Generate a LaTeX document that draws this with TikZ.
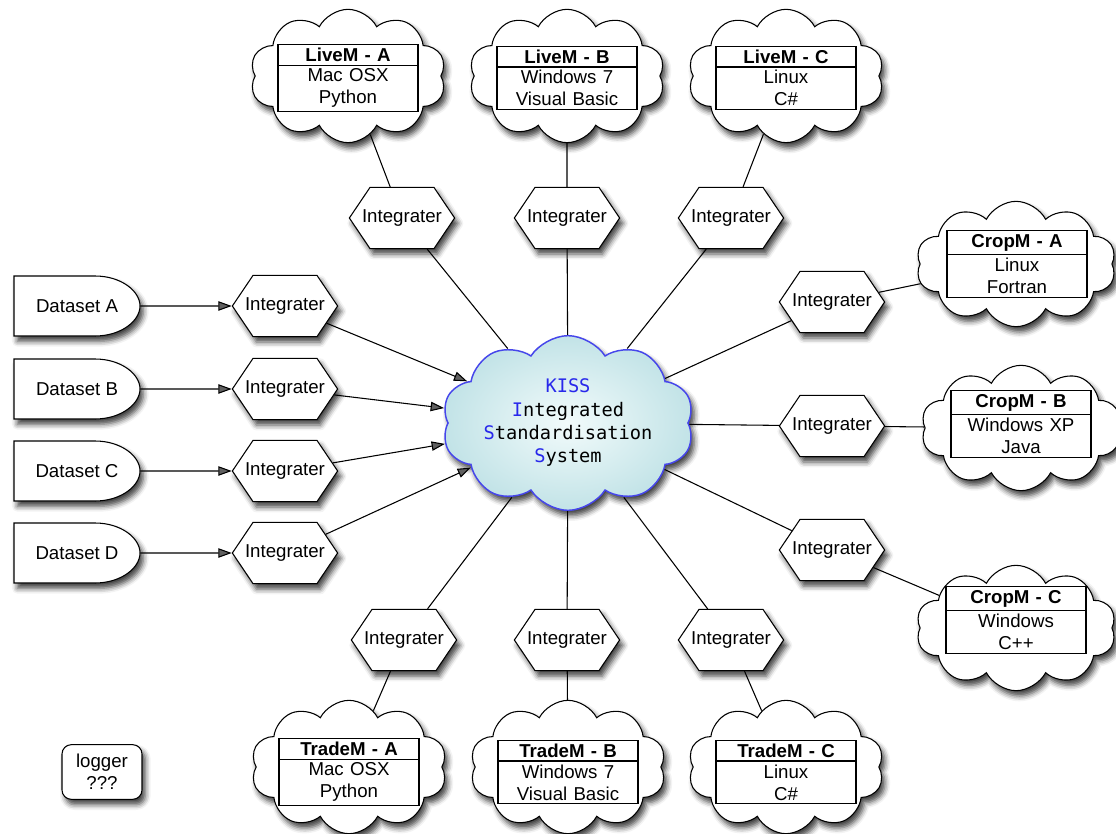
\documentclass[tikz,border=0pt]{standalone}
\usepackage{fontspec}
\setmainfont{Liberation Sans}
\newfontfamily\kissmono{DejaVu Sans Mono}
\usetikzlibrary{shapes.symbols,shapes.multipart,shadows.blur,arrows.meta}
\definecolor{kissblue}{RGB}{40,40,235}
\definecolor{kissedge}{RGB}{70,70,235}
\definecolor{kissin}{RGB}{242,251,251}
\definecolor{kissout}{RGB}{194,227,231}
\newcommand\dfont{\fontsize{14}{16.5}\selectfont}
\newcommand\kfont{\kissmono\fontsize{14}{17.5}\selectfont}
\newcommand\kb[1]{\textcolor{kissblue}{#1}}

\tikzset{
  sh/.style={blur shadow={shadow xshift=2.5pt, shadow yshift=-4pt,
             shadow blur radius=4pt, shadow opacity=75}},
  integ/.style={signal, signal to=east and west, signal pointer angle=112,
             draw, line width=0.8pt, fill=white, minimum width=0pt,
             minimum height=46pt, inner xsep=-6pt, sh, font=\dfont},
  modcloud/.style={cloud, cloud puffs=10, cloud puff arc=125,
             cloud ignores aspect, draw, line width=0.8pt, fill=white,
             minimum width=147pt, minimum height=100pt, inner sep=0pt, sh},
  cropcloud/.style={modcloud, minimum width=150pt, minimum height=94pt},
  kisscloud/.style={cloud, cloud puffs=10, cloud puff arc=115,
             cloud ignores aspect, draw=kissedge, line width=1.1pt,
             inner color=kissin, outer color=kissout,
             minimum width=189pt, minimum height=131pt, inner sep=0pt, sh},
  modbox/.style={rectangle split, rectangle split parts=2, draw,
             line width=0.8pt, fill=white, text width=96pt, align=center,
             inner xsep=4.5pt, inner ysep=2.2pt, font=\dfont},
  dsetlabel/.style={rectangle, minimum width=94.5pt, minimum height=45pt,
             inner sep=0pt, font=\dfont},
  dsetshape/.style={draw, line width=0.8pt, fill=white, sh},
  logbox/.style={draw, line width=0.8pt, fill=white, rounded corners=7pt,
             minimum width=60pt, minimum height=41pt, align=center,
             font=\dfont, sh},
  conn/.style={line width=0.8pt},
  arr/.style={line width=0.8pt, -{Triangle[length=10pt,width=7pt]}}
}

\begin{document}
\begin{tikzpicture}[x=0.75pt, y=-0.75pt]
\useasboundingbox (0,0) rectangle (1116,834);

% central system
\node[kisscloud] (kiss) at (568,423) {};
\node[font=\kfont, align=center] (kisstxt) at (568,423)
  {\kb{KISS}\\\kb{I}ntegrated\\\kb{S}tandardisation\\\kb{S}ystem};

% livestock models (top)
\node[modcloud] (liveA) at (348,76) {};
\node[modcloud] (liveB) at (567,76) {};
\node[modcloud] (liveC) at (786,76) {};
\node[modbox] (liveAbox) at (348,78) {\textbf{LiveM - A}\nodepart{second}Mac OSX\\Python};
\node[modbox] (liveBbox) at (567,78) {\textbf{LiveM - B}\nodepart{second}Windows 7\\Visual Basic};
\node[modbox] (liveCbox) at (786,78) {\textbf{LiveM - C}\nodepart{second}Linux\\C\#};

% crop models (right)
\node[cropcloud] (cropA) at (1016,264) {};
\node[cropcloud] (cropB) at (1021,428) {};
\node[cropcloud] (cropC) at (1016,628) {};
\node[modbox] (cropAbox) at (1017,264) {\textbf{CropM - A}\nodepart{second}Linux\\Fortran};
\node[modbox] (cropBbox) at (1021,424) {\textbf{CropM - B}\nodepart{second}Windows XP\\Java};
\node[modbox] (cropCbox) at (1016,620) {\textbf{CropM - C}\nodepart{second}Windows\\C++};

% trade models (bottom)
\node[modcloud] (tradeA) at (349,767) {};
\node[modcloud] (tradeB) at (568,767) {};
\node[modcloud] (tradeC) at (786,767) {};
\node[modbox] (tradeAbox) at (349,772) {\textbf{TradeM - A}\nodepart{second}Mac OSX\\Python};
\node[modbox] (tradeBbox) at (568,772) {\textbf{TradeM - B}\nodepart{second}Windows 7\\Visual Basic};
\node[modbox] (tradeCbox) at (786,772) {\textbf{TradeM - C}\nodepart{second}Linux\\C\#};

% integraters
\node[integ] (iT1) at (402,218) {Integrater};
\node[integ] (iT2) at (567,218) {Integrater};
\node[integ] (iT3) at (731,218) {Integrater};
\node[integ] (iR1) at (832,302) {Integrater};
\node[integ] (iR2) at (832,426) {Integrater};
\node[integ] (iR3) at (832,550) {Integrater};
\node[integ] (iB1) at (404,640) {Integrater};
\node[integ] (iB2) at (567,640) {Integrater};
\node[integ] (iB3) at (731,640) {Integrater};
\node[integ] (iL1) at (285,306) {Integrater};
\node[integ] (iL2) at (285,389) {Integrater};
\node[integ] (iL3) at (285,471) {Integrater};
\node[integ] (iL4) at (285,553) {Integrater};

% datasets (flat left side, rounded right side)
\foreach \y in {306,389,471,553} {
  \path[dsetshape] (14,\y-30) -- (95,\y-30)
    .. controls (121,\y-30) and (140,\y-15) .. (140,\y)
    .. controls (140,\y+15) and (121,\y+30) .. (95,\y+30)
    -- (14,\y+30) -- cycle;
}
\node[dsetlabel] (dA) at (77,306) {Dataset A};
\node[dsetlabel] (dB) at (77,389) {Dataset B};
\node[dsetlabel] (dC) at (77,471) {Dataset C};
\node[dsetlabel] (dD) at (77,553) {Dataset D};

% logger
\node[logbox] (logger) at (102,772) {logger\\???};

% connectors
\draw[conn] (liveA) -- (iT1) -- (kiss);
\draw[conn] (liveB) -- (iT2) -- (kiss);
\draw[conn] (liveC) -- (iT3) -- (kiss);
\draw[conn] (kiss) -- (iR1) -- (cropA);
\draw[conn] (kiss) -- (iR2) -- (cropB);
\draw[conn] (kiss) -- (iR3) -- (cropC);
\draw[conn] (kiss) -- (iB1) -- (tradeA);
\draw[conn] (kiss) -- (iB2) -- (tradeB);
\draw[conn] (kiss) -- (iB3) -- (tradeC);
\draw[arr] (dA) -- (iL1);
\draw[arr] (dB) -- (iL2);
\draw[arr] (dC) -- (iL3);
\draw[arr] (dD) -- (iL4);
\draw[arr] (iL1) -- (kiss);
\draw[arr] (iL2) -- (kiss);
\draw[arr] (iL3) -- (kiss);
\draw[arr] (iL4) -- (kiss);
\end{tikzpicture}
\end{document}
